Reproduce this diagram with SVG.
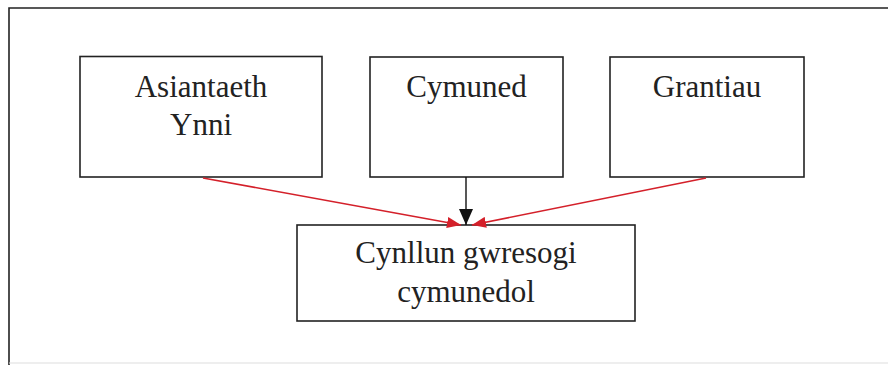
<svg xmlns="http://www.w3.org/2000/svg" width="888" height="365" viewBox="0 0 888 365">
<defs>
<marker id="ab" viewBox="0 0 16 14" refX="16" refY="7" markerWidth="16" markerHeight="14" markerUnits="userSpaceOnUse" orient="auto"><path d="M0,0 L16,7 L0,14 Z" fill="#111"/></marker>
<marker id="ar" viewBox="0 0 14 11" refX="14" refY="5.5" markerWidth="14" markerHeight="11" markerUnits="userSpaceOnUse" orient="auto"><path d="M0,0 L14,5.5 L0,11 Z" fill="#d4202a"/></marker>
</defs>
<style>
.box{fill:#fff;stroke:#222;stroke-width:1.6}
.t{font-family:"Liberation Serif","Times New Roman",serif;font-size:31px;fill:#222;text-anchor:middle}
.frame{stroke:#222;stroke-width:1.6;fill:none}
</style>
<rect width="888" height="365" fill="#fff"/>
<g id="frame">
<path class="frame" d="M9,365 V8 H888"/>
<line x1="9" y1="363" x2="888" y2="363" stroke="#ddd" stroke-width="1"/>
</g>
<g id="n1"><rect class="box" x="80" y="56.5" width="242" height="120.5"/><text class="t" x="201" y="97">Asiantaeth</text><text class="t" x="201" y="135">Ynni</text></g>
<g id="n2"><rect class="box" x="370" y="57" width="193" height="120"/><text class="t" x="466.5" y="97">Cymuned</text></g>
<g id="n3"><rect class="box" x="610" y="57" width="194" height="120"/><text class="t" x="707" y="97">Grantiau</text></g>
<g id="n4"><rect class="box" x="297" y="225" width="338" height="96"/><text class="t" x="466" y="263">Cynllun gwresogi</text><text class="t" x="466" y="302">cymunedol</text></g>
<g id="connectors">
<line x1="466" y1="177" x2="466" y2="225" stroke="#111" stroke-width="1.4" marker-end="url(#ab)"/>
<line x1="203" y1="178" x2="461" y2="225" stroke="#d4202a" stroke-width="1.6" marker-end="url(#ar)"/>
<line x1="706" y1="178" x2="472" y2="225" stroke="#d4202a" stroke-width="1.6" marker-end="url(#ar)"/>
</g>
</svg>
